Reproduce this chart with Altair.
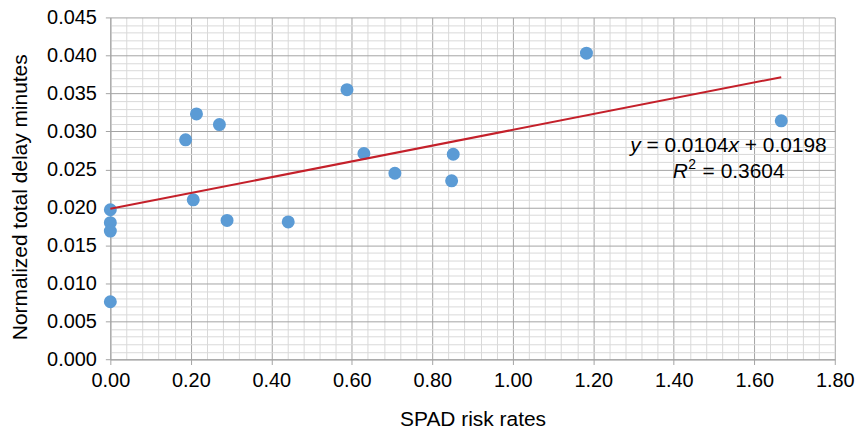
import altair as alt
import pandas as pd

# Data
spad_risk = [0.0, 0.0, 0.0, 0.0, 0.187, 0.214, 0.271, 0.206, 0.290, 0.442,
             0.588, 0.630, 0.707, 0.852, 0.848, 1.183, 1.667]
delay_min = [0.0197, 0.0180, 0.0169, 0.0076, 0.0289, 0.0323, 0.0309, 0.0210,
             0.0183, 0.0181, 0.0355, 0.0271, 0.0245, 0.0270, 0.0235, 0.0403, 0.0314]

x_ticks = [round(i * 0.04, 2) for i in range(46)]
y_ticks = [round(i * 0.001, 3) for i in range(46)]

eq_line1 = ["y", "= 0.0104", "x", "+ 0.0198"]
eq_line2 = ["R", "2", "= 0.3604"]

df = pd.DataFrame({"spad": spad_risk, "delay": delay_min})

FONT = "Liberation Sans"
MAJOR = "#a4a4a4"
MINOR = "#d9d9d9"

x_major = "abs(datum.value*5 - round(datum.value*5)) < 1e-6"
y_major = "abs(datum.value*200 - round(datum.value*200)) < 1e-6"

x_scale = alt.Scale(domain=[0, 1.8], nice=False, zero=True)
y_scale = alt.Scale(domain=[0, 0.045], nice=False, zero=True)

x_axis = alt.Axis(
    values=x_ticks, format=".2f", title="SPAD risk rates",
    labelExpr=f"{x_major} ? datum.label : ''",
    labelOverlap=False, labelFlush=False,
    gridColor={"condition": {"test": x_major, "value": MAJOR}, "value": MINOR},
    tickOpacity={"condition": {"test": x_major, "value": 1}, "value": 0},
    tickColor=MAJOR, tickSize=5, domainColor=MAJOR,
    labelFontSize=20, labelFont=FONT, labelColor="black", labelPadding=6,
    titleFontSize=21, titleFont=FONT, titleFontWeight="normal", titleColor="black",
    titleY=66, titleBaseline="alphabetic",
)
y_axis = alt.Axis(
    values=y_ticks, format=".3f", title="Normalized total delay minutes",
    labelExpr=f"{y_major} ? datum.label : ''",
    labelOverlap=False, labelFlush=False,
    gridColor={"condition": {"test": y_major, "value": MAJOR}, "value": MINOR},
    tickOpacity={"condition": {"test": y_major, "value": 1}, "value": 0},
    tickColor=MAJOR, tickSize=5, domainColor=MAJOR,
    labelFontSize=20, labelFont=FONT, labelColor="black", labelPadding=9,
    titleFontSize=21, titleFont=FONT, titleFontWeight="normal", titleColor="black",
    titleX=-84, titleY=180, titleBaseline="alphabetic", titleAngle=270,
)

base = alt.Chart(df)

points = base.mark_circle(size=170, color="#5B9BD5", opacity=1).encode(
    x=alt.X("spad:Q", scale=x_scale, axis=x_axis),
    y=alt.Y("delay:Q", scale=y_scale, axis=y_axis),
)

trend = base.transform_regression("spad", "delay").mark_line(
    color="#C4202A", strokeWidth=2
).encode(
    x=alt.X("spad:Q", scale=x_scale, axis=x_axis),
    y=alt.Y("delay:Q", scale=y_scale, axis=y_axis),
)

# annotation anchor (center of text block) in data coordinates
ann = pd.DataFrame({"ax": [1.536], "ay1": [0.0273], "ay2": [0.02394]})
abase = alt.Chart(ann)

def piece(text, ycol, dx, italic=False, size=21, dy=0):
    return abase.mark_text(
        text=text, align="left", baseline="alphabetic", dx=dx, dy=dy,
        font=FONT, fontSize=size, fontStyle="italic" if italic else "normal",
        color="black",
    ).encode(
        x=alt.X("ax:Q", scale=x_scale, axis=x_axis),
        y=alt.Y(f"{ycol}:Q", scale=y_scale, axis=y_axis),
    )

texts = [
    piece(eq_line1[0], "ay1", -98.7, italic=True),
    piece(eq_line1[1], "ay1", -82.4),
    piece(eq_line1[2], "ay1", 0.0, italic=True),
    piece(eq_line1[3], "ay1", 16.3),
    piece(eq_line2[0], "ay2", -56.0, italic=True),
    piece(eq_line2[1], "ay2", -40.5, size=14, dy=-9),
    piece(eq_line2[2], "ay2", -26.0),
]

chart = alt.layer(points, trend, *texts).properties(
    width=727, height=343.3,
    autosize=alt.AutoSizeParams(type="none"),
    padding={"left": 102.7, "top": 8.7, "right": 20.3, "bottom": 72},
).configure_view(stroke=None)

chart.save("out.html", embed_options={"renderer": "svg", "actions": False})
